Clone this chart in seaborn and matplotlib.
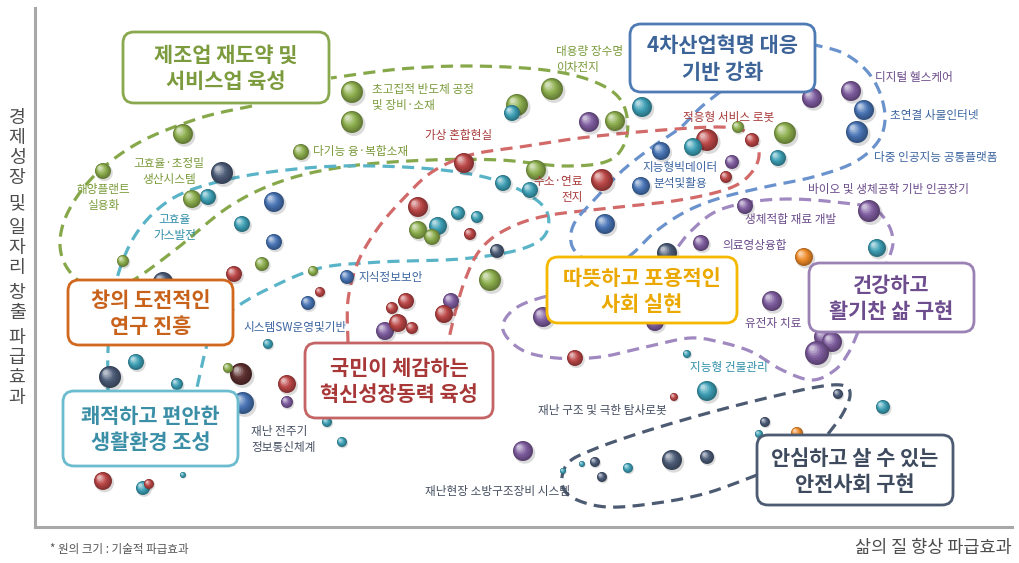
import numpy as np
import pandas as pd
import matplotlib
matplotlib.use("Agg")
import matplotlib.pyplot as plt
import seaborn as sns
from matplotlib.patches import FancyBboxPatch
from matplotlib.colors import to_rgb, to_hex

# ---------------- data (positions, pixel-like units) ----------------
bubble_x = [241,
            589, 812, 851, 732, 745, 869, 701, 772, 824, 832, 817, 543, 655, 523, 385, 451, 287,
            222, 163, 110, 497, 667, 838, 765, 707, 672, 595, 602,
            274, 274, 661, 641, 605, 347, 308, 243, 864, 857,
            183, 103, 192, 262, 123, 301, 313, 352, 352, 517, 552, 615, 536, 490, 738, 785,
            234, 464, 602, 418, 470, 707, 752, 726, 320, 287, 103, 406, 392, 398, 412, 444, 575, 674,
            208, 242, 512, 642, 503, 530, 458, 477, 438, 693, 778, 877, 268, 136, 177, 327, 342, 143,
            183, 687, 707, 883, 759, 563, 582, 628,
            804, 797,
            418, 432, 228,
            149]
bubble_y = [374,
            122, 98, 91, 162, 206, 211, 243, 301, 337, 342, 353, 317, 322, 451, 331, 301, 402,
            173, 282, 377, 251, 253, 394, 422, 457, 460, 462, 477,
            202, 242, 151, 186, 224, 277, 303, 403, 110, 132,
            134, 171, 199, 264, 261, 152, 271, 92, 122, 105, 89, 121, 170, 280, 127, 133,
            274, 163, 180, 207, 234, 140, 140, 177, 292, 384, 481, 301, 308, 323, 328, 314, 358, 397,
            197, 224, 113, 107, 183, 190, 213, 217, 226, 147, 158, 248, 344, 362, 384, 422, 442, 488,
            475, 354, 391, 407, 434, 471, 464, 468,
            257, 433,
            230, 237, 368,
            484]
bubble_r = [11,
            10, 10, 10, 7, 8, 11, 8, 10, 10, 10, 12, 10, 9, 10, 9, 8, 6,
            11, 10, 11, 7, 10, 5, 5, 7, 10, 5, 5,
            10, 8, 9, 9, 10, 7, 7, 11, 10, 11,
            10, 8, 9, 7, 6, 8, 5, 11, 11, 11, 11, 10, 10, 11, 6, 11,
            8, 10, 11, 10, 6, 11, 7, 6, 5, 9, 9, 8, 6, 9, 6, 9, 8, 4,
            8, 8, 8, 10, 8, 8, 7, 6, 9, 9, 8, 9, 5, 8, 6, 5, 5, 7,
            3, 4, 10, 7, 4, 3, 3, 5,
            9, 6,
            9, 8, 5,
            5]
bubble_group = (["brown"] + ["purple"] * 17 + ["navy"] * 11 + ["blue"] * 10 + ["green"] * 16
                + ["red"] * 18 + ["teal"] * 26 + ["orange"] * 2 + ["green"] * 3 + ["red"])

group_colors = {
    "green": "#8cae4c", "red": "#bb4545", "teal": "#3c9fb5", "blue": "#4773b5",
    "purple": "#7e5c9f", "navy": "#4b5b77", "orange": "#ef8a28", "brown": "#5e2f2f",
}

# small labels
label_text = ["해양플랜트\n실용화", "고효율·초정밀\n생산시스템", "고효율\n가스발전", "초고집적 반도체 공정\n및 장비·소재",
              "다기능 융·복합소재", "대용량 장수명\n이차전지", "가상 혼합현실", "수소·연료\n전지", "적응형 서비스 로봇",
              "지능형빅데이터\n분석및활용", "디지털 헬스케어", "초연결 사물인터넷", "다중 인공지능 공통플랫폼",
              "바이오 및 생체공학 기반 인공장기", "생체적합 재료 개발", "의료영상융합", "유전자 치료",
              "지능형 건물관리", "재난 구조 및 극한 탐사로봇", "재난현장 소방구조장비 시스템",
              "재난 전주기\n정보통신체계", "시스템SW운영및기반", "지식정보보안"]
label_x = [103, 169, 175, 372, 313, 556, 425, 583, 683, 680, 875, 890, 874, 808, 745, 722, 745,
           690, 538, 425, 251, 243, 358]
label_y = [198, 172, 227, 98, 152, 59, 135, 189, 117, 176, 78, 116, 157, 189, 220, 245, 323,
           368, 410, 491, 440, 328, 277]
label_ha = ["center", "center", "center", "left", "left", "left", "left", "right", "left", "center",
            "left", "left", "left", "left", "left", "left", "left", "left", "left", "left", "left",
            "left", "left"]
label_color = ["#7a9a3a", "#7a9a3a", "#2f8ea8", "#7a9a3a", "#7a9a3a", "#7a9a3a", "#a83a3a", "#a83a3a",
               "#a83a3a", "#3c65a0", "#6a4a8a", "#3c65a0", "#3c65a0", "#6a4a8a", "#6a4a8a", "#6a4a8a",
               "#6a4a8a", "#2f8ea8", "#444e60", "#444e60", "#444e60", "#3c65a0", "#3c65a0"]

# group boxes: text, left, top, right, bottom, edge colour, text colour
box_text = ["제조업 재도약 및\n서비스업 육성", "4차산업혁명 대응\n기반 강화", "창의 도전적인\n연구 진흥",
            "쾌적하고 편안한\n생활환경 조성", "국민이 체감하는\n혁신성장동력 육성", "따뜻하고 포용적인\n사회 실현",
            "건강하고\n활기찬 삶 구현", "안심하고 살 수 있는\n안전사회 구현"]
box_left = [123, 630, 68, 63, 305, 547, 809, 757]
box_top = [32, 24, 280, 391, 343, 257, 263, 435]
box_right = [329, 815, 233, 238, 493, 737, 974, 953]
box_bottom = [103, 92, 345, 466, 418, 323, 332, 505]
box_edge = ["#8aa84e", "#4f7bb5", "#d0681e", "#6cbccf", "#c46464", "#f5b800", "#9b82b5", "#4d5b72"]
box_tcolor = ["#7b9b3d", "#3d6498", "#c8621a", "#3a8ea6", "#a83838", "#eba800", "#6e4d8e", "#3e4a5e"]

# dashed group outlines (control points)
outline_green = [(252, 106), (200, 118), (140, 142), (95, 175), (68, 212), (60, 245), (70, 272), (98, 292),
                 (130, 282), (175, 250), (230, 206), (285, 180), (350, 166), (430, 160), (500, 160),
                 (565, 166), (610, 160), (627, 135), (622, 102), (595, 82), (545, 70), (470, 66),
                 (400, 69), (331, 78)]
outline_teal = [(108, 392), (108, 350), (112, 300), (125, 255), (145, 222), (175, 197), (217, 182),
                (270, 172), (340, 166), (420, 168), (480, 176), (520, 190), (546, 210), (545, 235),
                (518, 250), (460, 259), (380, 262), (320, 268), (272, 287), (235, 308), (212, 330),
                (196, 392)]
outline_red = [(348, 343), (348, 300), (358, 262), (378, 228), (404, 198), (432, 172), (470, 155),
               (520, 147), (580, 138), (650, 131), (720, 127), (748, 133), (759, 152), (752, 172),
               (730, 188), (680, 200), (610, 208), (545, 216), (505, 230), (480, 250), (465, 280),
               (455, 313), (448, 343)]
outline_blue = [(720, 92), (700, 108), (680, 128), (655, 145), (623, 170), (597, 197), (575, 222),
                (571, 242), (580, 256), (605, 272), (632, 254), (655, 232), (685, 212), (720, 198),
                (765, 187), (813, 177), (853, 163), (877, 143), (885, 120), (880, 93), (866, 70),
                (843, 53), (815, 45)]
outline_purple = [(858, 332), (849, 352), (835, 370), (812, 380), (782, 370), (752, 352), (720, 342),
                  (690, 338), (650, 346), (600, 357), (556, 358), (522, 350), (503, 330), (512, 311),
                  (540, 298), (600, 285), (660, 262), (675, 250), (690, 232), (715, 212), (750, 202),
                  (790, 199), (835, 202), (872, 208), (888, 224), (893, 243), (887, 263)]
outline_navy = [(828, 434), (842, 415), (850, 396), (845, 386), (823, 386), (775, 396), (708, 413),
                (640, 433), (592, 450), (568, 463), (562, 483), (573, 498), (607, 507), (657, 503),
                (707, 493), (757, 475)]
outlines = [(outline_green, "#87a84a"), (outline_teal, "#5ab4c8"), (outline_red, "#d26a6a"),
            (outline_blue, "#6a92cc"), (outline_purple, "#a088c0"), (outline_navy, "#4d5b72")]

y_title = "경제성장 및 일자리 창출 파급효과"
x_title = "삶의 질 향상 파급효과"
footnote = "* 원의 크기 : 기술적 파급효과"

# ---------------- style ----------------
sns.set_theme(style="white")
plt.rcParams["font.family"] = ["Noto Sans CJK KR", "DejaVu Sans"]

W, H = 1019, 563
fig = plt.figure(figsize=(W / 100, H / 100), dpi=100)
L, R, T, B = 35, 1012, 8, 527
ax = fig.add_axes([L / W, (H - B) / H, (R - L) / W, (B - T) / H])
ax.set_xlim(L, R)
ax.set_ylim(B, T)
ax.set_xticks([])
ax.set_yticks([])
sns.despine(ax=ax)
for sp in ("left", "bottom"):
    ax.spines[sp].set_color("#a8a8a8")
    ax.spines[sp].set_linewidth(2.2)


def catmull(pts, n=18):
    p = np.asarray(pts, float)
    p = np.vstack([p[0], p, p[-1]])
    out = []
    t = np.linspace(0, 1, n, endpoint=False)[:, None]
    for i in range(1, len(p) - 2):
        p0, p1, p2, p3 = p[i - 1], p[i], p[i + 1], p[i + 2]
        out.append(0.5 * (2 * p1 + (-p0 + p2) * t + (2 * p0 - 5 * p1 + 4 * p2 - p3) * t ** 2
                          + (-p0 + 3 * p1 - 3 * p2 + p3) * t ** 3))
    out.append(p[-2][None])
    return np.vstack(out)


for pts, col in outlines:
    c = catmull(pts)
    ax.plot(c[:, 0], c[:, 1], color=col, lw=2.3, ls=(0, (3.8, 2.3)), zorder=1,
            solid_capstyle="butt", dash_capstyle="butt")

# ---------------- bubbles (shaded spheres through seaborn scatter) ----------------
rows = []
nl = 7
for x, y, r, g in zip(bubble_x, bubble_y, bubble_r, bubble_group):
    base = np.array(to_rgb(group_colors[g]))
    dark = base * 0.72
    light = base + (1 - base) * 0.6
    rows.append((x + 0.18 * r, y + 0.22 * r, r * 1.05, "#00000024"))
    for k, f in enumerate(np.linspace(1.0, 0.22, nl)):
        t = k / (nl - 1)
        if t < 0.45:
            col = dark * (1 - t / 0.45) + base * (t / 0.45)
        else:
            tt = (t - 0.45) / 0.55
            col = base * (1 - tt) + light * tt
        off = (1 - f) * r * 0.5
        rows.append((x - off, y - off, r * f, to_hex(np.clip(col, 0, 1))))

bub = pd.DataFrame(rows, columns=["x", "y", "rad", "col"])
bub["area"] = (2 * bub["rad"] * 0.72) ** 2
amin, amax = bub["area"].min(), bub["area"].max()
pal = {c: c for c in bub["col"].unique()}
sns.scatterplot(data=bub, x="x", y="y", hue="col", palette=pal, size="area",
                sizes=(amin, amax), size_norm=(amin, amax), legend=False,
                edgecolor="none", linewidth=0, ax=ax, zorder=3)

# ---------------- labels ----------------
for txt, x, y, ha, col in zip(label_text, label_x, label_y, label_ha, label_color):
    ax.text(x, y, txt, ha=ha, va="center", multialignment=ha,
            fontsize=8.4, color=col, zorder=4, linespacing=1.3)

for txt, l, t, r, b, ec, tc in zip(box_text, box_left, box_top, box_right, box_bottom, box_edge, box_tcolor):
    ax.add_patch(FancyBboxPatch((l, t), r - l, b - t, boxstyle="round,pad=0,rounding_size=11",
                                facecolor="white", edgecolor=ec, linewidth=2.0, zorder=5))
    ax.text((l + r) / 2, (t + b) / 2 + 1, txt, ha="center", va="center", fontsize=15,
            fontweight="bold", color=tc, zorder=6, linespacing=1.3)

# axis titles
yy = 118
for ch in y_title:
    if ch == " ":
        yy += 5
        continue
    ax.text(17, yy, ch, ha="center", va="center", fontsize=13.2, color="#4d4d4d", clip_on=False)
    yy += 20
ax.text(1012, 548, x_title, ha="right", va="center", fontsize=12.6, color="#4d4d4d", clip_on=False)
ax.text(50, 549, footnote, ha="left", va="center", fontsize=8.3, color="#555555", clip_on=False)

fig.savefig("out.png", dpi=100)
